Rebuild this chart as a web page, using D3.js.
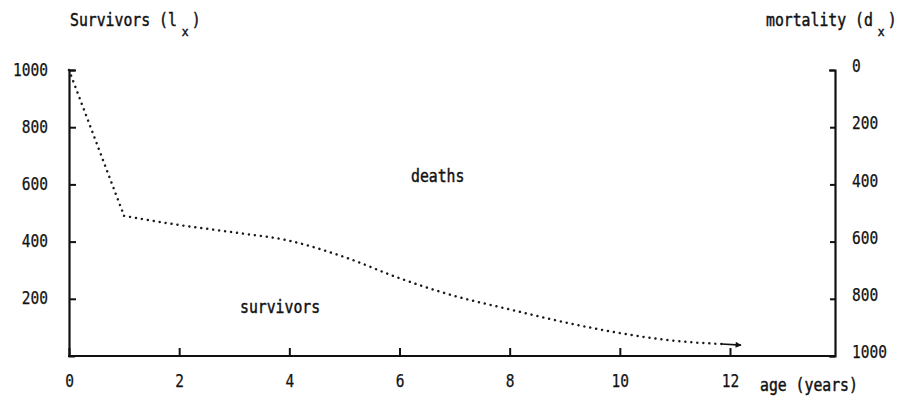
<!DOCTYPE html>
<html>
<head>
<meta charset="utf-8">
<script src="https://cdn.jsdelivr.net/npm/d3@7/dist/d3.min.js"></script>
<style>
  html, body { margin: 0; padding: 0; background: #ffffff; }
  svg { display: block; }
  text { font-family: "DejaVu Sans Mono", "Liberation Mono", monospace; fill: #111; stroke: #111; stroke-width: 0.45px; }
  .tick text { stroke-width: 0.25px; }
</style>
</head>
<body>
<svg id="chart" width="901" height="405"></svg>
<script>
// ---- data ----
const ages      = [0, 1, 2, 3, 4, 5, 6, 7, 8, 9, 10, 11, 12];
const survivors = [1000, 490, 458, 432, 403, 346, 272, 210, 163, 118, 80, 53, 40];
const arrowStart = {age: 11.85, value: 42};
const arrowEnd   = {age: 12.2, value: 38};
const xTicks     = [0, 2, 4, 6, 8, 10, 12];
const leftTicks  = [200, 400, 600, 800, 1000];
const rightTicks = [0, 200, 400, 600, 800, 1000];

const svg = d3.select("#chart");
const FS = 17;         // font size
const SX = 0.87;       // horizontal condensing of the typewriter text
const CW = FS * 0.602 * SX;

function condense(sel, cw) {
  sel.each(function() {
    const t = d3.select(this);
    const n = t.text().length;
    t.attr("textLength", n * cw).attr("lengthAdjust", "spacingAndGlyphs");
  });
}

const x  = d3.scaleLinear().domain([0, 12]).range([69, 730]);
const yL = d3.scaleLinear().domain([0, 1000]).range([356, 70]);
const yR = d3.scaleLinear().domain([0, 1000]).range([70, 356]);
const rightX = 835;

// left axis (ticks pointing inward)
const gL = svg.append("g").attr("transform", "translate(69,0)")
  .call(d3.axisLeft(yL).tickValues(leftTicks).tickFormat(d3.format("d"))
    .tickSizeInner(-7).tickSizeOuter(-6).tickPadding(21));
// right axis (ticks pointing inward)
const gR = svg.append("g").attr("transform", `translate(${rightX},0)`)
  .call(d3.axisRight(yR).tickValues(rightTicks).tickFormat(d3.format("d"))
    .tickSizeInner(-5).tickSizeOuter(-6).tickPadding(17));
// bottom axis (ticks pointing up)
const gB = svg.append("g").attr("transform", "translate(0,356)")
  .call(d3.axisBottom(x).tickValues(xTicks).tickFormat(d3.format("d"))
    .tickSizeInner(-8).tickSizeOuter(0).tickPadding(19));
gB.select(".domain").remove();
svg.append("line")
  .attr("x1", x(0) - 1).attr("x2", rightX + 1)
  .attr("y1", 356).attr("y2", 356)
  .attr("stroke", "#111").attr("stroke-width", 2.2);

[gL, gR, gB].forEach(g => {
  g.selectAll(".domain").attr("stroke", "#111").attr("stroke-width", 2.2);
  g.selectAll(".tick line").attr("stroke", "#111").attr("stroke-width", 2);
  g.selectAll(".tick text")
    .attr("font-family", '"DejaVu Sans Mono", monospace')
    .attr("font-size", FS).attr("fill", "#111")
    .call(condense, 8.75);
});
gR.selectAll(".tick text").attr("dy", "0.1em");
gL.selectAll(".tick text").attr("dy", "0.3em");

// survivors curve (dotted)
const pts = ages.map((a, i) => ({age: a, value: survivors[i]}));
const dotStyle = sel => sel.attr("fill", "none").attr("stroke", "#1a1a1a")
  .attr("stroke-width", 2.5).attr("stroke-linecap", "round")
  .attr("stroke-dasharray", "0.01 6");

svg.append("path")
  .attr("d", d3.line().x(d => x(d.age)).y(d => yL(d.value))(pts.slice(0, 2)))
  .call(dotStyle);
svg.append("path")
  .attr("d", d3.line().x(d => x(d.age)).y(d => yL(d.value)).curve(d3.curveMonotoneX)(pts.slice(1).filter(d => d.age <= 11.85).concat([arrowStart])))
  .call(dotStyle);

// arrow at the end
svg.append("defs").append("marker")
  .attr("id", "arrowhead").attr("viewBox", "0 0 10 10")
  .attr("refX", 9).attr("refY", 5)
  .attr("markerWidth", 7).attr("markerHeight", 6)
  .attr("markerUnits", "userSpaceOnUse")
  .attr("orient", "auto")
  .append("path").attr("d", "M0,0 L10,5 L0,10 z").attr("fill", "#111");
svg.append("line")
  .attr("x1", x(arrowStart.age)).attr("y1", yL(arrowStart.value))
  .attr("x2", x(arrowEnd.age)).attr("y2", yL(arrowEnd.value))
  .attr("stroke", "#111").attr("stroke-width", 1.6)
  .attr("marker-end", "url(#arrowhead)");

// titles and annotations (condensed typewriter text)
function label(xp, yp, str, fs = FS) {
  return svg.append("text")
    .attr("transform", `translate(${xp},${yp}) scale(${SX},1)`)
    .attr("font-size", fs)
    .text(str);
}
function subTitle(xp, yp, main, sub) {
  const w = main.length * CW;
  label(xp, yp, main);
  label(xp + w + 5, yp + 10, sub, 13);
  label(xp + w + 15, yp, ")");
}
subTitle(70, 26, "Survivors (l", "x");
subTitle(766, 26, "mortality (d", "x");

label(411, 182, "deaths");
label(240, 313, "survivors");
label(760, 391, "age (years)");
</script>
</body>
</html>
